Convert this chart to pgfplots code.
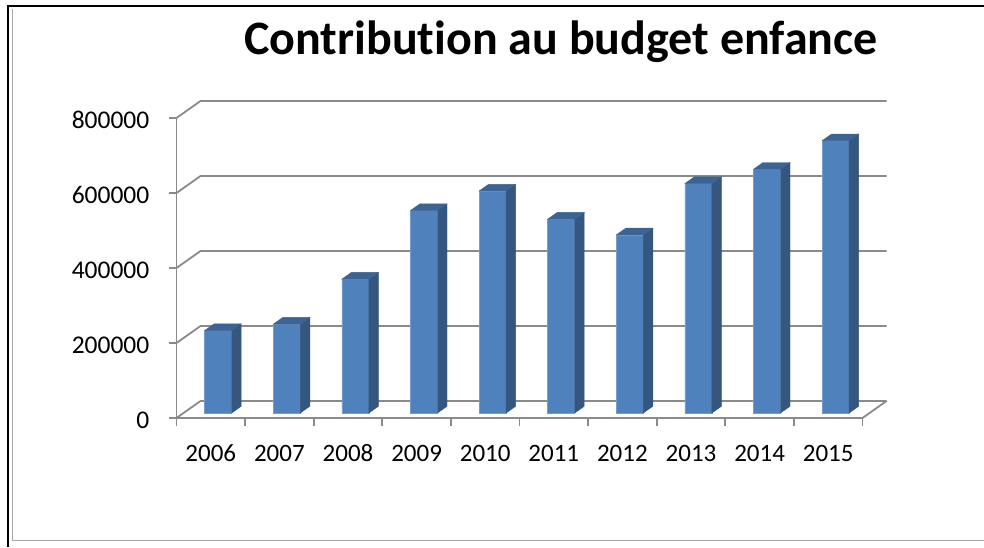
\documentclass[border=0pt]{standalone}
\usepackage{pgfplots}
\pgfplotsset{compat=1.18}
\usepackage{pgfplotstable}
\usepackage{fontspec}
\setmainfont{Carlito}[Ligatures=NoCommon]
\definecolor{barfront}{HTML}{4F81BD}
\definecolor{baredge}{HTML}{739CCF}
\definecolor{barside}{HTML}{34567F}
\definecolor{bartop}{HTML}{3B6393}
\definecolor{gridgray}{HTML}{8A8A8A}
\definecolor{framegray}{HTML}{A6A6A6}
\pgfdeclareplotmark{nothing}{}
\pgfplotstableread{
pos year amount
0.5 2006 220000
1.5 2007 237000
2.5 2008 357000
3.5 2009 540000
4.5 2010 592000
5.5 2011 517000
6.5 2012 475000
7.5 2013 612000
8.5 2014 650000
9.5 2015 726000
}\budget
\begin{document}
\begin{tikzpicture}
\useasboundingbox (0pt,0pt) rectangle (984pt,547pt);
\draw[black, line width=2pt] (8.2pt,0pt) -- (8.2pt,541.2pt) -- (984pt,541.2pt);
\draw[framegray, line width=1.5pt] (12.7pt,538pt) -- (12.7pt,6.7pt) -- (984pt,6.7pt);
\node[anchor=base, font=\bfseries\fontsize{48}{56}\selectfont, inner sep=0pt] at (561pt,492pt) {Contribution au budget enfance};
\begin{axis}[
  at={(176.5pt,129pt)}, anchor=south west,
  scale only axis, width=686pt, height=300pt,
  xmin=0, xmax=10, ymin=0, ymax=800000,
  axis x line*=bottom, axis y line*=left,
  axis line style={draw=gridgray, line width=1.8pt, -},
  tick align=inside,
  xtick style={draw=none}, ytick style={draw=none},
  xtick={0.5,1.5,2.5,3.5,4.5,5.5,6.5,7.5,8.5,9.5},
  xticklabels={2006,2007,2008,2009,2010,2011,2012,2013,2014,2015},
  ytick={0,200000,400000,600000,800000},
  yticklabels={},
  scaled y ticks=false,
  xticklabel style={anchor=base, inner sep=0pt, yshift=-43.7pt, font=\fontsize{25}{30}\selectfont},
  clip=false,
]
\pgfplotsinvokeforeach{0,200000,400000,600000,800000}{
  \draw[gridgray, line width=1.8pt] (axis cs:0,#1) -- ++(-8pt,0pt);
  \draw[gridgray, line width=1.8pt, line join=round] (axis cs:0,#1) -- ([shift={(24pt,17pt)}]axis cs:0,#1) -- ([shift={(24pt,17pt)}]axis cs:10,#1);
  \node[anchor=east, inner sep=0pt, font=\fontsize{25.5}{30}\selectfont] at ([xshift=-27pt,yshift=-2pt]axis cs:0,#1) {#1};
}
\draw[gridgray, line width=1.8pt] (axis cs:10,0) -- ++(24pt,17pt);
\pgfplotsinvokeforeach{0,1,2,3,4,5,6,7,8,9,10}{\draw[gridgray, line width=1.8pt] (axis cs:#1,0) -- ++(0pt,-8pt);}
\coordinate (zf) at ([yshift=5pt]axis cs:0,0);
\coordinate (zb) at ([yshift=11.7pt]axis cs:0,0);
\addplot[ybar, bar width=27pt, bar shift=7.4pt, yshift=5pt, fill=barfront, draw=baredge, line width=0.7pt] table[x=pos, y=amount] {\budget};
\addplot[scatter, only marks, mark=nothing, point meta=y,
  scatter/@pre marker code/.code={%
    \fill[barside] (20.9pt,5pt) -- (30.4pt,11.7pt) -- (30.4pt,0pt |- zb) -- (20.9pt,0pt |- zf) -- cycle;
    \fill[bartop] (-6.1pt,5pt) -- (20.9pt,5pt) -- (30.4pt,11.7pt) -- (3.4pt,11.7pt) -- cycle;
  },
  scatter/@post marker code/.code={}
] table[x=pos, y=amount] {\budget};
\end{axis}
\end{tikzpicture}
\end{document}
